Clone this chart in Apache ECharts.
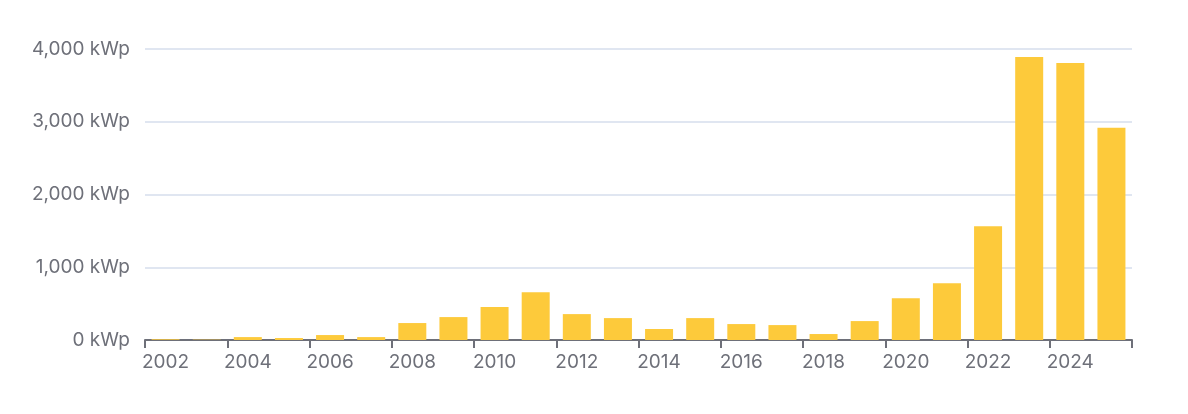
<!DOCTYPE html>
<html>
<head>
<meta charset="utf-8">
<script src="https://cdn.jsdelivr.net/npm/echarts@6/dist/echarts.min.js"></script>
<style>html,body{margin:0;padding:0;background:#fff;}#c{width:1188px;height:414px;}</style>
</head>
<body>
<div id="c"></div>
<script>
const years = ['2002','2003','2004','2005','2006','2007','2008','2009','2010','2011','2012','2013','2014','2015','2016','2017','2018','2019','2020','2021','2022','2023','2024','2025'];
const values = [10, 5, 40, 27, 68, 40, 233, 315, 452, 658, 356, 301, 151, 301, 219, 205, 82, 260, 575, 781, 1562, 3890, 3808, 2918];
const yTicks = [0, 1000, 2000, 3000, 4000];
const unit = 'kWp';

const chart = echarts.init(document.getElementById('c'), null, {renderer: 'canvas'});
chart.setOption({
  animation: false,
  textStyle: {fontFamily: 'Inter, Liberation Sans, Arial, sans-serif'},
  grid: {left: 145, right: 56, top: 49, bottom: 74, containLabel: false},
  xAxis: {
    type: 'category',
    data: years,
    boundaryGap: true,
    axisLine: {show: true, lineStyle: {color: '#6E7079', width: 2}},
    axisTick: {show: true, alignWithLabel: false, interval: 1, length: 8, lineStyle: {color: '#6E7079', width: 2}},
    axisLabel: {interval: 1, color: '#6E7079', fontSize: 19, margin: 13, fontFamily: 'Inter'}
  },
  yAxis: {
    type: 'value',
    min: yTicks[0],
    max: yTicks[yTicks.length - 1],
    interval: 1000,
    axisLine: {show: false},
    axisTick: {show: false},
    splitLine: {lineStyle: {color: '#E0E6F1', width: 2}},
    axisLabel: {
      color: '#6E7079', fontSize: 19, margin: 15, fontFamily: 'Inter',
      formatter: v => v.toLocaleString('en-US') + ' ' + unit
    }
  },
  series: [{
    type: 'bar',
    data: values,
    barWidth: 28,
    itemStyle: {color: '#FDCA3B'}
  }]
});
</script>
</body>
</html>
